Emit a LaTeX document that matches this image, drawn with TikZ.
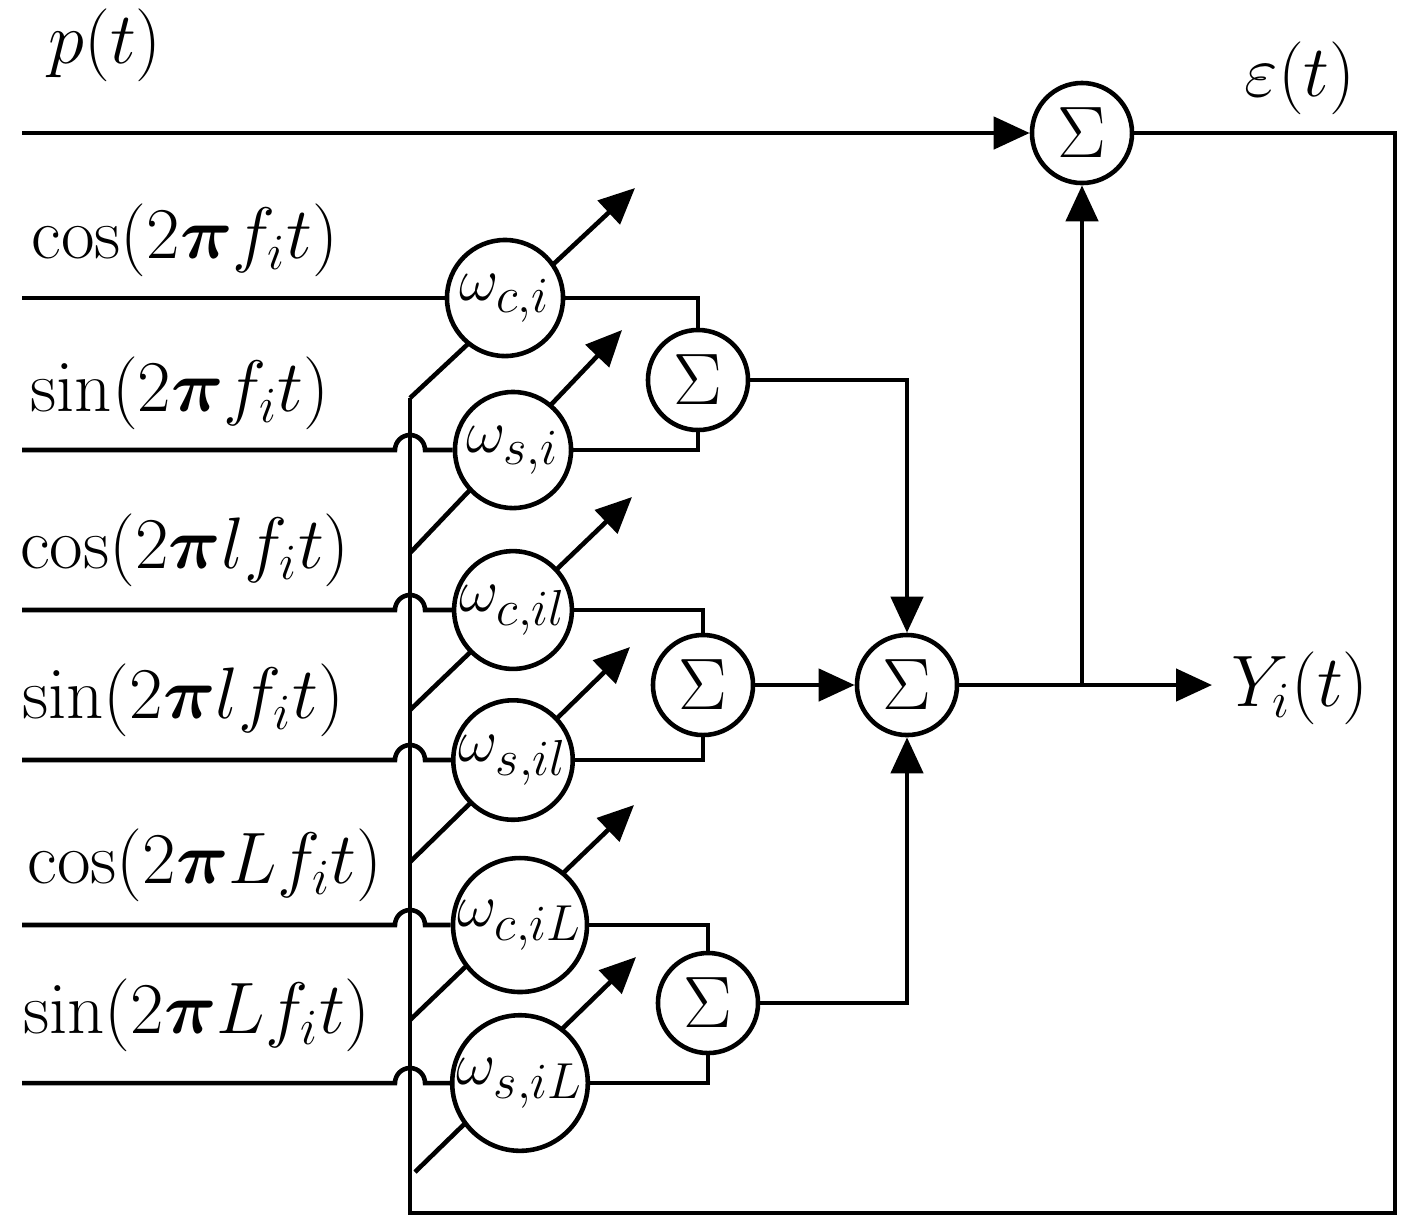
\documentclass[tikz,border=0pt]{standalone}
\usepackage{amsmath,bm}
\usetikzlibrary{arrows.meta}
\begin{document}
\begin{tikzpicture}[x=0.01cm,y=-0.01cm,line width=1.3pt,
  ar/.style={-{Triangle[length=0.36cm,width=0.32cm]}},
  wt/.style={circle,draw,fill=white,minimum size=1.16cm,inner sep=0pt,font=\fontsize{19}{21}\selectfont},
  sm/.style={circle,draw,fill=white,minimum size=1.0cm,inner sep=0pt,font=\fontsize{22}{24}\selectfont},
  lb/.style={font=\fontsize{22}{26}\selectfont,inner sep=0pt}]
\useasboundingbox (0,0) rectangle (1422,1226);
% labels
\node[lb] (pt) at (105,45) {$p(t)$};
\node[lb] (et) at (1300,78) {$\varepsilon(t)$};
\node[lb] (l1) at (185,240) {$\cos(2\bm{\pi} f_i t)$};
\node[lb] (l2) at (180,393) {$\sin(2\bm{\pi} f_i t)$};
\node[lb] (l3) at (185,550) {$\cos(2\bm{\pi} l f_i t)$};
\node[lb] (l4) at (183,700) {$\sin(2\bm{\pi} l f_i t)$};
\node[lb] (l5) at (205,865) {$\cos(2\bm{\pi} L f_i t)$};
\node[lb] (l6) at (197,1015) {$\sin(2\bm{\pi} L f_i t)$};
\node[lb] (yt) at (1300,688) {$Y_i(t)$};
% adaptation arrows
\foreach \a/\b/\c/\d/\n in {410/398/635/188/1,410/553/622/330/2,410/710/632/497/3,410/862/630/647/4,410/1020/634/805/5,415/1172/636/957/6}{
  \coordinate (s\n) at (\a,\b); \coordinate (t\n) at (\c,\d);
  \draw[ar] (s\n) -- (t\n);}
% feedback
\coordinate (f1) at (1395,133); \coordinate (f2) at (1395,1213); \coordinate (f3) at (410,1213);
% sums
\node[sm] (S0) at (1082,133) {$\Sigma$};
\node[sm] (S1) at (698,380) {$\Sigma$};
\node[sm] (S2) at (703,685) {$\Sigma$};
\node[sm] (S3) at (708,1003) {$\Sigma$};
\node[sm] (SB) at (907,685) {$\Sigma$};
% weights
\node[wt] (w1) at (505,298) {$\omega_{c,i}$};
\node[wt] (w2) at (513,450) {$\omega_{s,i}$};
\node[wt] (w3) at (513,610) {$\omega_{c,il}$};
\node[wt] (w4) at (513,760) {$\omega_{s,il}$};
\node[wt] (w5) at (520,925) {$\omega_{c,iL}$};
\node[wt] (w6) at (520,1083) {$\omega_{s,iL}$};
\draw (S0.east) -- (f1) -- (f2) -- (f3) -- (s1);
% inputs
\coordinate (i1) at (22,298);
\draw (i1) -- (w1.west);
\foreach \y/\n in {450/2,610/3,760/4,925/5,1083/6}{
  \coordinate (i\n) at (22,\y); \coordinate (h\n) at (395,\y);
  \draw (i\n) -- (h\n) arc[start angle=180,end angle=0,radius=0.15cm] -- (w\n.west);}
\coordinate (i0) at (22,133);
\draw[ar] (i0) -- (S0.west);
% weight to sums
\draw (w1.east) -| (S1.north); \draw (w2.east) -| (S1.south);
\draw (w3.east) -| (S2.north); \draw (w4.east) -| (S2.south);
\draw (w5.east) -| (S3.north); \draw (w6.east) -| (S3.south);
\draw[ar] (S1.east) -| (SB.north);
\draw[ar] (S2.east) -- (SB.west);
\draw[ar] (S3.east) -| (SB.south);
\coordinate (br) at (1082,685); \coordinate (ye) at (1212,685);
\draw[ar] (SB.east) -- (ye);
\draw[ar] (br) -- (S0.south);
\end{tikzpicture}
\end{document}
